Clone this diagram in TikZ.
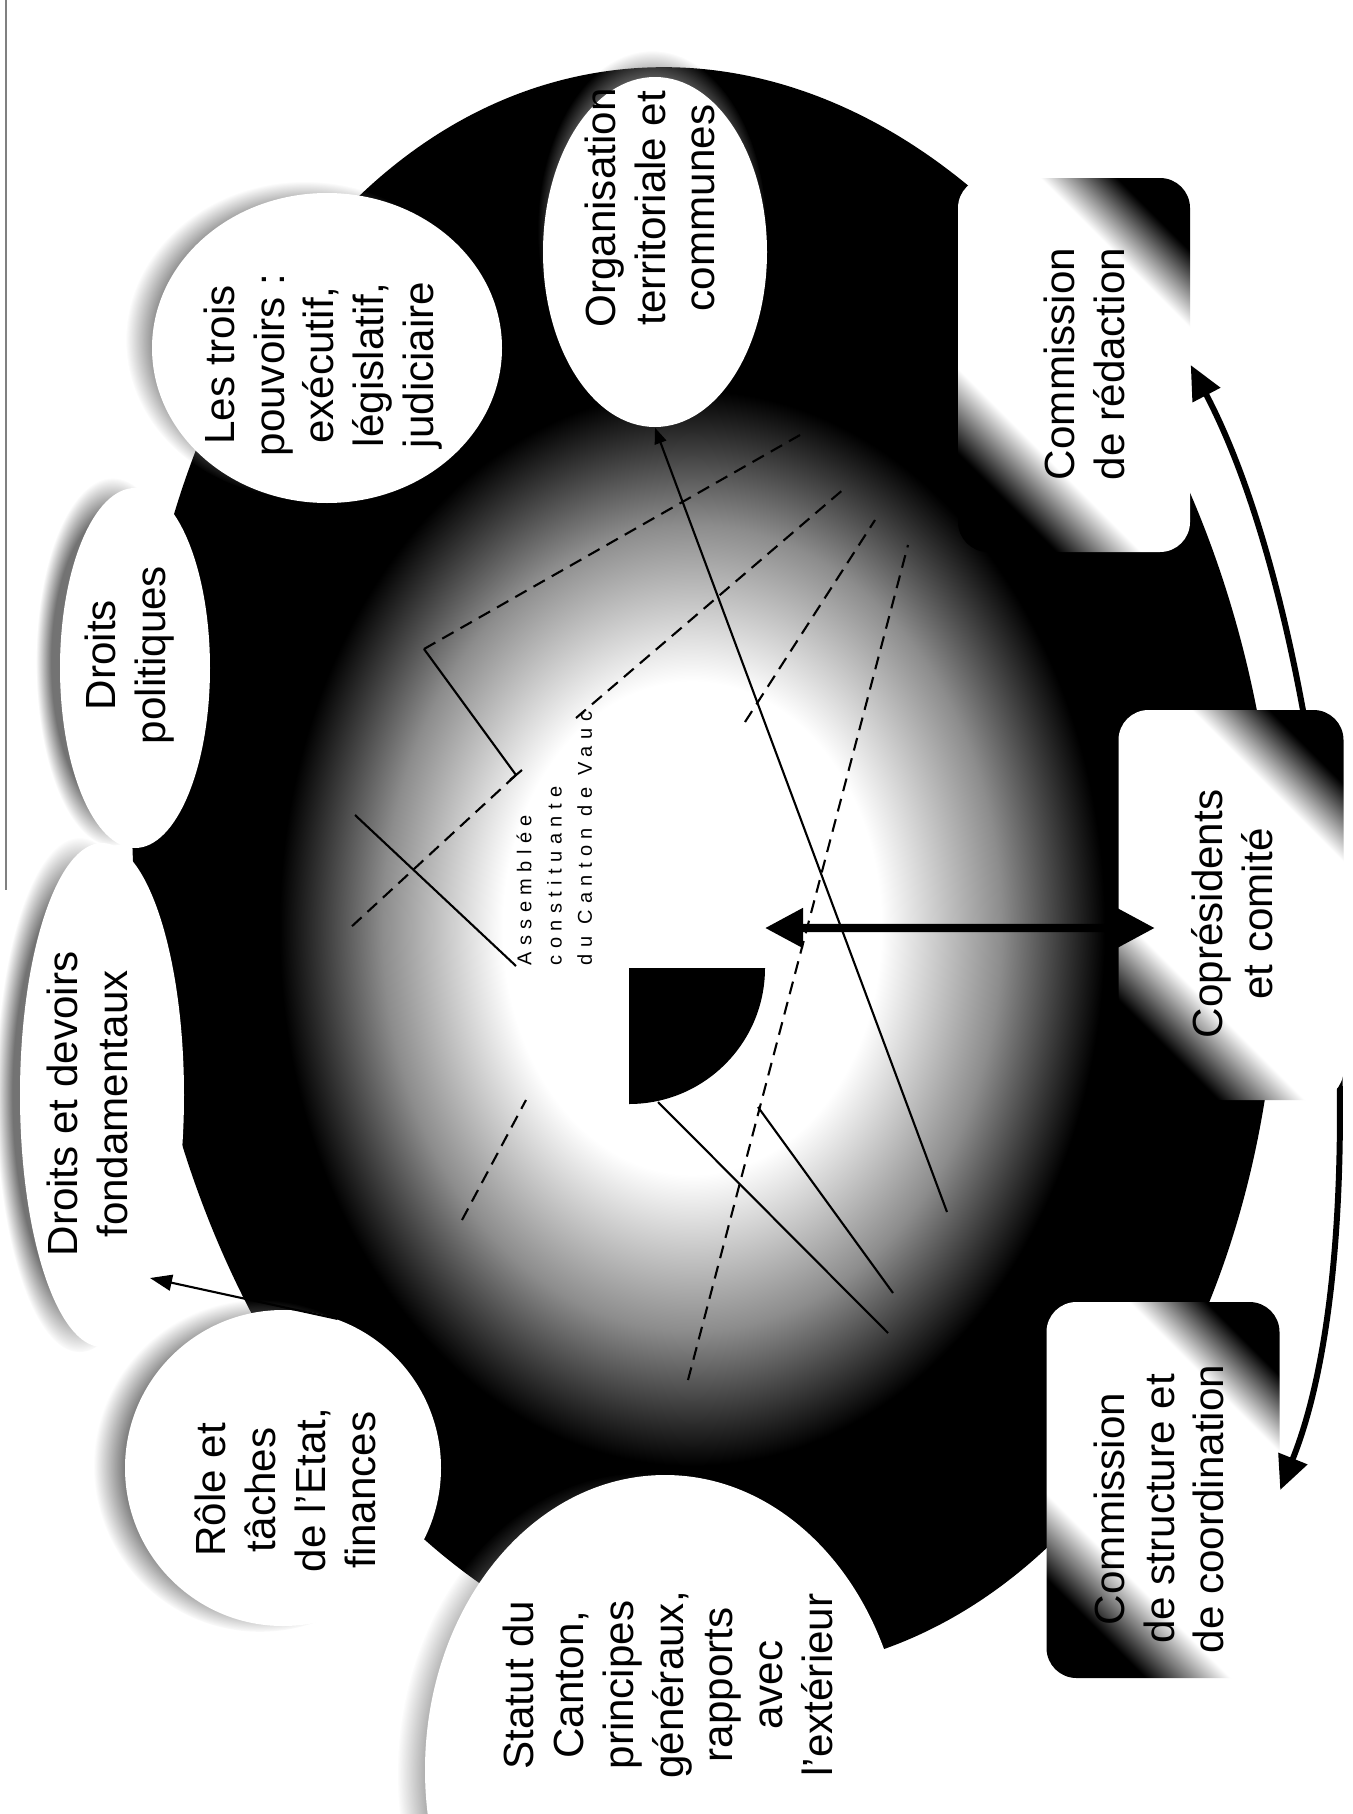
\documentclass[tikz,border=0pt]{standalone}
\usepackage{fontspec}
\setmainfont{Liberation Sans}
\newfontfamily\spacedfont[LetterSpace=32]{Liberation Sans}
\usepackage{tikz}
\usetikzlibrary{arrows.meta, shapes.geometric, shadows, fadings}

\pgfdeclareradialshading{coreshade}{\pgfpoint{0bp}{0bp}}{%
  color(0bp)=(white); color(11bp)=(white); color(18bp)=(black!45);
  color(24bp)=(black); color(50bp)=(black)}
\pgfdeclarehorizontalshading{bandshade}{100bp}{%
  color(0bp)=(black); color(26bp)=(black); color(36bp)=(white);
  color(68bp)=(white); color(77bp)=(black); color(100bp)=(black)}

\begin{document}
\begin{tikzpicture}[
    x=0.1mm, y=-0.1mm,
    bubble/.style={
        ellipse,
        fill=white,
        inner sep=0pt,
        circular drop shadow={
            shadow scale=1.02,
            fill=black!55,
            path fading={circle with fuzzy edge 20 percent},
            #1
        }
    },
    combox/.style={
        rectangle,
        rounded corners=3mm,
        shade,
        shading=bandshade,
        shading angle=45,
        inner sep=0pt
    },
    lbl/.style={
        rotate=90,
        align=center,
        inner sep=0pt,
        font=\fontsize{12}{14.2}\selectfont
    },
    ray/.style={line width=0.6pt},
    dashray/.style={line width=0.6pt, dash pattern=on 1.3mm off 0.8mm},
    bigarrow/.style={
        {Triangle[length=3.8mm, width=3.8mm]}-{Triangle[length=3.8mm, width=3.8mm]},
        line width=2.3pt
    },
    bendarrow/.style={
        {Triangle[length=3.4mm, width=3mm]}-{Triangle[length=3.4mm, width=3mm]},
        line width=1.7pt
    },
    smallarrow/.style={-{Triangle[length=2.2mm, width=1.6mm]}, line width=0.6pt},
    tinyarrow/.style={-{Triangle[length=1.6mm, width=1.2mm]}, line width=0.6pt}
]
\useasboundingbox (0,0) rectangle (1353,1814);
\clip (0,0) rectangle (1353,1814);
\fill[white] (0,0) rectangle (1353,1814);
\draw[black!50, line width=0.4pt] (6,0) -- (6,890);

% disc and light core
\fill[black, rotate around={6:(705,870)}] (705,870) ellipse [x radius=57mm, y radius=80.5mm];
\shade[shading=coreshade] (692,928) ellipse [x radius=43mm, y radius=56mm];

% topic bubbles
\node[bubble={shadow xshift=-0.3mm, shadow yshift=2.2mm}, minimum width=22.4mm, minimum height=35mm] (orga) at (655,252) {};
\node[bubble={shadow xshift=-2.2mm, shadow yshift=0.8mm}, minimum width=35mm, minimum height=31mm] (pouvoirs) at (327,348) {};
\node[bubble={shadow xshift=-2.2mm, shadow yshift=0.6mm}, minimum width=15mm, minimum height=36mm] (politiques) at (135,668) {};
\node[bubble={shadow xshift=-2.2mm, shadow yshift=0mm}, minimum width=16.4mm, minimum height=50.4mm] (devoirs) at (102,1095) {};
\node[bubble={shadow xshift=-2.2mm, shadow yshift=0.2mm, shadow scale=1.05}, minimum width=31.6mm, minimum height=31.6mm] (role) at (283,1468) {};
\node[bubble={shadow xshift=-2.2mm, shadow yshift=-0.4mm}, minimum width=48mm, minimum height=59mm] (statut) at (665,1770) {};

% centre
\fill[black] (629,968) -- (765,968) arc[start angle=0, end angle=90, radius=136] -- cycle;
\node[anchor=north west, rotate=90, align=left, inner sep=0pt,
      font=\spacedfont\fontsize{5.7}{8.6}\selectfont] (assemblee) at (516,966)
      {Assemblée\\constituante\\du Canton de Vauc};

\coordinate (p1) at (424,649);
\coordinate (tick) at (516,775);
\coordinate (hub) at (765,928);
\coordinate (h0) at (355,815);
\coordinate (a1) at (350,928);
\coordinate (b1) at (800,435);
\coordinate (c0) at (576,718);
\coordinate (c1) at (845,488);
\coordinate (d0) at (745,722);
\coordinate (d1) at (875,520);
\coordinate (e0) at (688,1380);
\coordinate (e1) at (908,545);
\coordinate (f0) at (462,1220);
\coordinate (f1) at (526,1100);
\coordinate (l1a) at (658,1102);
\coordinate (l1b) at (888,1333);
\coordinate (l2a) at (758,1107);
\coordinate (l2b) at (893,1293);
\coordinate (l3) at (947,1212);
\coordinate (devtip) at (150,1278);

\draw[ray] (p1) -- (tick);
\draw[ray] (tick) ++(-6,5) -- ++(12,-10);
\draw[ray] (h0) -- (assemblee.north west);
\draw[dashray] (tick) -- (a1);
\draw[dashray] (p1) -- (b1);
\draw[dashray] (c0) -- (c1);
\draw[dashray] (d0) -- (d1);
\draw[dashray] (e0) -- (e1);
\draw[dashray] (f0) -- (f1);
\draw[ray] (l1a) -- (l1b);
\draw[ray] (l2a) -- (l2b);
\draw[tinyarrow] (l3) -- (orga.south);
\draw[smallarrow] (role.70) -- (devtip);

% commissions
\node[combox, minimum width=23.2mm, minimum height=37.4mm] (redaction) at (1074,365) {};
\node[combox, minimum width=23.3mm, minimum height=37.6mm] (structure) at (1163,1490) {};
\draw[bendarrow] (redaction.east) .. controls (1335,640) and (1385,1230) .. (structure.east);
\node[combox, minimum width=22.5mm, minimum height=39mm] (copres) at (1231,905) {};
\draw[bigarrow] ([xshift=3.7mm, yshift=-2.3mm]copres.west) -- (hub);

% labels
\node[lbl] (orga-t) at (650,208) {Organisation\\territoriale et\\communes};
\node[lbl] (pouvoirs-t) at (323,365) {Les trois\\pouvoirs :\\exécutif,\\législatif,\\judiciaire};
\node[lbl] (politiques-t) at (130,655) {Droits\\politiques};
\node[lbl] (devoirs-t) at (87,1104) {Droits et devoirs\\fondamentaux};
\node[lbl] (role-t) at (285,1490) {Rôle et\\tâches\\de l’Etat,\\finances};
\node[lbl] (statut-t) at (668,1685) {Statut du\\Canton,\\principes\\généraux,\\rapports\\avec\\l’extérieur};
\node[lbl] (redaction-t) at (1084,364) {Commission\\de rédaction};
\node[lbl] (copres-t) at (1232,914) {Coprésidents\\et comité};
\node[lbl] (structure-t) at (1159,1509) {Commission\\de structure et\\de coordination};
\end{tikzpicture}
\end{document}
